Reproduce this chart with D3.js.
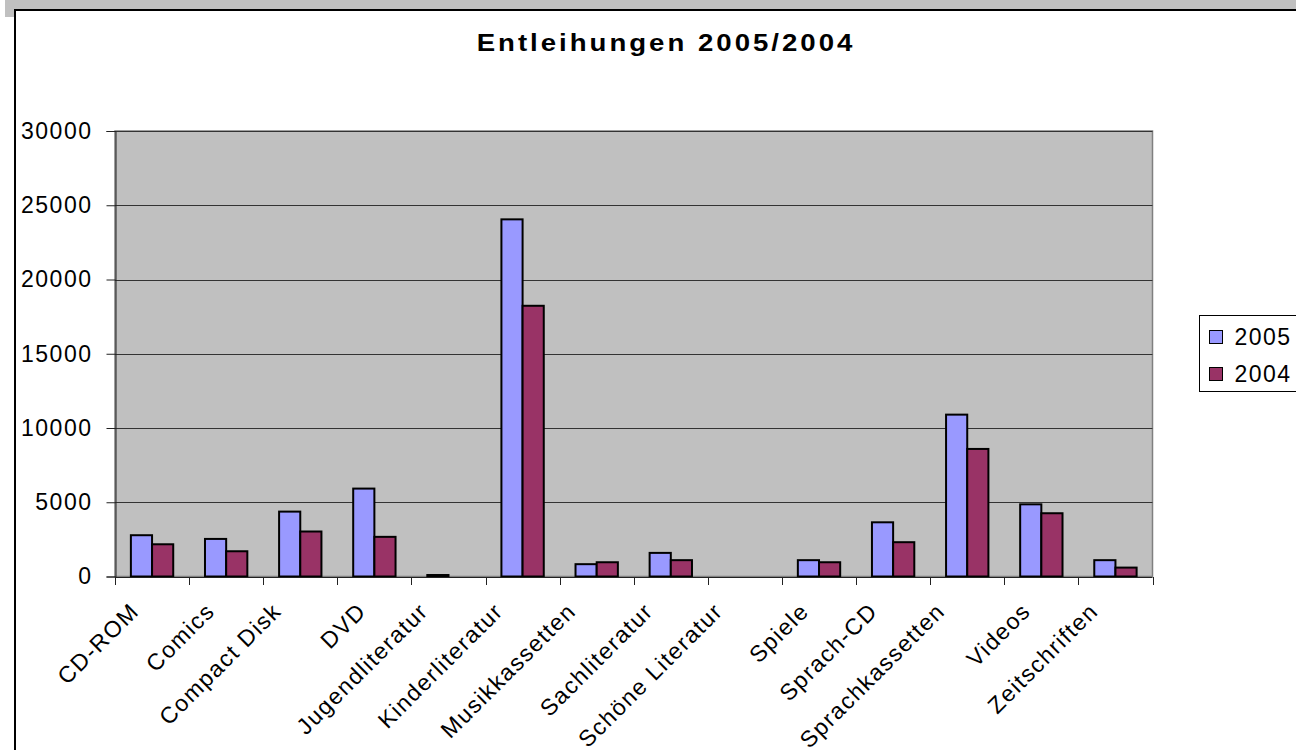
<!DOCTYPE html>
<html>
<head>
<meta charset="utf-8">
<script src="https://cdn.jsdelivr.net/npm/d3@7"></script>
<style>
	body { margin: 0; background: #fff; }
	svg { display: block; font-family: "Liberation Sans", Arial, sans-serif; }
</style>
</head>
<body>
<svg id="chart" width="1296" height="750"></svg>
<script>
var categories = ["CD-ROM", "Comics", "Compact Disk", "DVD", "Jugendliteratur", "Kinderliteratur",
	"Musikkassetten", "Sachliteratur", "Schöne Literatur", "Spiele", "Sprach-CD",
	"Sprachkassetten", "Videos", "Zeitschriften"];
var seriesNames = ["2005", "2004"];
var values2005 = [2780, 2530, 4370, 5920, 100, 24050, 830, 1590, 0, 1100, 3650, 10900, 4860, 1100];
var values2004 = [2170, 1700, 3030, 2670, 0, 18230, 960, 1100, 0, 960, 2310, 8590, 4260, 600];
var yTicks = [0, 5000, 10000, 15000, 20000, 25000, 30000];
var seriesColors = ["#9999FF", "#993366"];

var svg = d3.select("#chart");
var plot = {left: 115, right: 1152.5, top: 131, bottom: 576.5};

// frame around the chart
svg.append("rect").attr("x", 5).attr("y", 0).attr("width", 1291).attr("height", 9.5).attr("fill", "#C0C0C0");
svg.append("rect").attr("x", 5).attr("y", 0).attr("width", 9.5).attr("height", 17).attr("fill", "#C0C0C0");
svg.append("rect").attr("x", 15).attr("y", 10).attr("width", 1300).attr("height", 760)
	.attr("fill", "#fff").attr("stroke", "#000").attr("stroke-width", 2);

// title, a little wider than the plain font like the original
svg.append("g").attr("transform", "translate(666,51) scale(1.15,1)")
	.append("text")
	.attr("text-anchor", "middle")
	.attr("font-size", 24).attr("font-weight", "bold")
	.attr("letter-spacing", "2.6px")
	.text("Entleihungen 2005/2004");

var x0 = d3.scaleBand().domain(categories).range([plot.left, plot.right]);
var bw = x0.bandwidth(), gap = bw * 0.75 / 3.5;
var x1 = d3.scaleBand().domain(seriesNames).range([gap, bw - gap]);
var y = d3.scaleLinear().domain([0, 30000]).range([plot.bottom, plot.top]);

// plot area
svg.append("rect")
	.attr("x", plot.left).attr("y", plot.top)
	.attr("width", plot.right - plot.left).attr("height", plot.bottom - plot.top)
	.attr("fill", "#C0C0C0").attr("stroke", "#808080").attr("stroke-width", 1.5);

svg.append("g").selectAll("line").data(yTicks.filter(function (d) { return d > 0; }))
	.enter().append("line")
	.attr("x1", plot.left).attr("x2", plot.right)
	.attr("y1", function (d) { return Math.round(y(d)) + 0.5; })
	.attr("y2", function (d) { return Math.round(y(d)) + 0.5; })
	.attr("stroke", "#333").attr("stroke-width", 1);

// bars
var rows = categories.map(function (c, i) {
	return {cat: c, vals: [{s: "2005", v: values2005[i], k: 0}, {s: "2004", v: values2004[i], k: 1}]};
});
svg.append("g").selectAll("g").data(rows).enter().append("g")
	.attr("transform", function (d) { return "translate(" + x0(d.cat) + ",0)"; })
	.selectAll("rect").data(function (d) { return d.vals.filter(function (e) { return e.v > 0; }); })
	.enter().append("rect")
	.attr("x", function (d) { return x1(d.s); })
	.attr("width", x1.bandwidth())
	.attr("y", function (d) { return y(d.v); })
	.attr("height", function (d) { return y(0) - y(d.v); })
	.attr("fill", function (d) { return seriesColors[d.k]; })
	.attr("stroke", "#000").attr("stroke-width", 2);

// axes
var yAxis = d3.axisLeft(y).tickValues(yTicks).tickSize(9).tickPadding(14).tickFormat(d3.format("d"));
var gy = svg.append("g").attr("transform", "translate(" + (plot.left + 0.5) + ",0)").call(yAxis);
gy.select(".domain").attr("stroke", "#222");
gy.selectAll(".tick line").attr("stroke", "#222");
gy.selectAll("text").attr("font-size", 23).attr("letter-spacing", "1.5px")
	.attr("font-family", "Liberation Sans, Arial, sans-serif").attr("fill", "#000");

var boundaries = categories.map(function (c) { return x0(c); }).concat([plot.right]);
var gx = svg.append("g");
gx.append("line")
	.attr("x1", plot.left).attr("x2", plot.right)
	.attr("y1", Math.round(plot.bottom) + 0.5).attr("y2", Math.round(plot.bottom) + 0.5)
	.attr("stroke", "#222");
gx.selectAll("line.tk").data(boundaries).enter().append("line").attr("class", "tk")
	.attr("x1", function (d) { return Math.round(d) + 0.5; })
	.attr("x2", function (d) { return Math.round(d) + 0.5; })
	.attr("y1", Math.round(plot.bottom)).attr("y2", Math.round(plot.bottom) + 8)
	.attr("stroke", "#222");

// rotated category labels: longer labels sit a little further left, as in the original
gx.selectAll("text").data(categories).enter().append("text")
	.attr("text-anchor", "end")
	.attr("dy", "0.71em")
	.attr("font-size", 23).attr("letter-spacing", "1.5px")
	.text(function (d) { return d; })
	.attr("transform", function (d) {
		var len = this.getComputedTextLength();
		return "translate(" + (x0(d) + bw / 2 - 13 - 0.1 * len) + ",601) rotate(-45)";
	});

// legend
var legend = svg.append("g");
legend.append("rect").attr("x", 1199.5).attr("y", 315.5).attr("width", 120).attr("height", 76)
	.attr("fill", "#fff").attr("stroke", "#000").attr("stroke-width", 1);
var li = legend.selectAll("g").data(seriesNames).enter().append("g")
	.attr("transform", function (d, i) { return "translate(1209.5," + (330.5 + i * 37) + ")"; });
li.append("rect").attr("width", 13).attr("height", 13)
	.attr("fill", function (d, i) { return seriesColors[i]; })
	.attr("stroke", "#000").attr("stroke-width", 1);
li.append("text").attr("x", 25).attr("y", 6.5).attr("dy", "0.36em")
	.attr("font-size", 23).attr("letter-spacing", "1.5px")
	.text(function (d) { return d; });
</script>
</body>
</html>
